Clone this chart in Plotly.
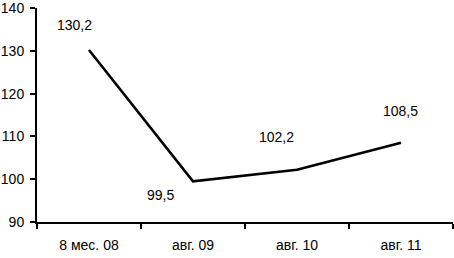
import plotly.graph_objects as go

categories = ["8 мес. 08", "авг. 09", "авг. 10", "авг. 11"]
values = [130.2, 99.5, 102.2, 108.5]
value_labels = ["130,2", "99,5", "102,2", "108,5"]
y_ticks = [90, 100, 110, 120, 130, 140]

# label offsets (px) relative to each point
label_dx = [-15, -33, -21, -1]
label_dy = [25, -14, 33, 32]

font = dict(family="Liberation Sans, Arial, sans-serif", size=14, color="black")

fig = go.Figure()
fig.add_trace(go.Scatter(
    x=categories, y=values, mode="lines",
    line=dict(color="black", width=2.6),
    hoverinfo="skip", showlegend=False,
))

for c, v, t, dx, dy in zip(categories, values, value_labels, label_dx, label_dy):
    fig.add_annotation(x=c, y=v, text=t, showarrow=False, xshift=dx, yshift=dy,
                       font=font)

fig.update_layout(
    width=454, height=258,
    margin=dict(l=37, r=1, t=8, b=36, autoexpand=False),
    paper_bgcolor="white", plot_bgcolor="white",
    font=font,
    showlegend=False,
)
fig.update_xaxes(
    type="category", range=[-0.5, 3.5], automargin=False,
    showline=True, linecolor="black", linewidth=2,
    ticks="outside", tickson="boundaries", ticklen=5, tickwidth=2, tickcolor="black",
    showgrid=False, zeroline=False, ticklabelstandoff=9, ticklabeloverflow="allow",
)
fig.update_yaxes(
    range=[90, 140], tickvals=y_ticks, automargin=False,
    showline=True, linecolor="black", linewidth=2,
    ticks="outside", ticklen=5, tickwidth=2, tickcolor="black",
    showgrid=False, zeroline=False, ticklabelstandoff=3, ticklabeloverflow="allow",
)

fig.write_html("out.html", config={"displayModeBar": False},
               post_script="document.body.style.margin='0';")
